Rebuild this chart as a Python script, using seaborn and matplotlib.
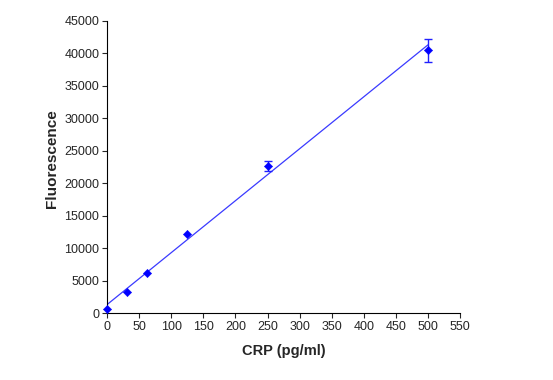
import numpy as np
import pandas as pd
import matplotlib
matplotlib.use("Agg")
import matplotlib.pyplot as plt
import seaborn as sns

# data
crp = [0, 31.25, 62.5, 125, 250, 500]
fluor = [600, 3200, 6200, 12250, 22600, 40450]
fluor_err = [0, 0, 0, 0, 750, 1750]

x_ticks = list(range(0, 551, 50))
y_ticks = list(range(0, 45001, 5000))

sns.set_style("ticks")
plt.rcParams['font.family'] = ['Liberation Sans', 'DejaVu Sans']

df = pd.DataFrame({'CRP': crp, 'Fluorescence': fluor, 'err': fluor_err})

# linear fit through the standards
slope, intercept = np.polyfit(df['CRP'], df['Fluorescence'], 1)
fit_x = np.array([df['CRP'].min(), df['CRP'].max()])
fit_y = slope * fit_x + intercept

fig = plt.figure(figsize=(5.53, 3.80), dpi=100)
ax = fig.add_axes([0.1935, 0.176, 0.6385, 0.7695])

sns.lineplot(x=fit_x, y=fit_y, ax=ax, color='#3a3aff', linewidth=0.9)
big = df[df['err'] > 0]
ax.errorbar(big['CRP'], big['Fluorescence'], yerr=big['err'], fmt='none',
            ecolor='#2020ff', elinewidth=1, capsize=3, capthick=1)
sns.scatterplot(data=df, x='CRP', y='Fluorescence', ax=ax, marker='D',
                color='#0000ff', s=18, edgecolor='#0000ff', zorder=5,
                clip_on=False)

ax.set_xlim(0, 550)
ax.set_ylim(0, 45000)
ax.set_xticks(x_ticks)
ax.set_yticks(y_ticks)
ax.tick_params(labelsize=9, length=3.5, width=0.8, direction='out', pad=2)
ax.set_xlabel('CRP (pg/ml)', fontsize=10.5, fontweight='bold', labelpad=8)
ax.set_ylabel('Fluorescence', fontsize=11, fontweight='bold')
ax.yaxis.set_label_coords(-0.135, 0.53)
for s in ['top', 'right']:
    ax.spines[s].set_visible(False)
for s in ['left', 'bottom']:
    ax.spines[s].set_linewidth(0.8)
    ax.spines[s].set_color('black')

fig.savefig('out.png', dpi=100)
